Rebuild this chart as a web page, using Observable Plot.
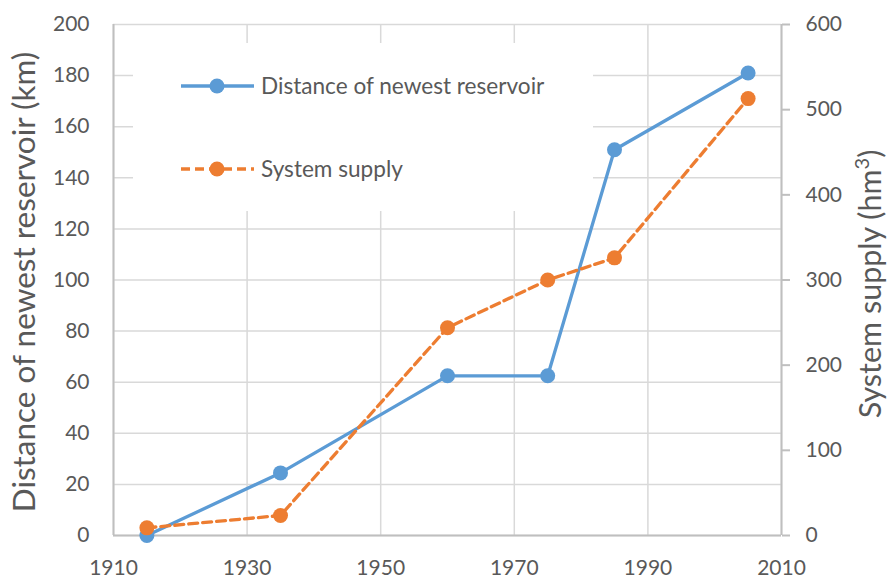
<!DOCTYPE html>
<html><head><meta charset="utf-8">
<script src="https://cdn.jsdelivr.net/npm/d3@7"></script>
<script src="https://cdn.jsdelivr.net/npm/@observablehq/plot@0.6"></script>
<style>body{margin:0;background:#fff}</style>
</head><body><div id="chart"></div>
<script>
const years = [1915, 1935, 1960, 1975, 1985, 2005];
const distanceKm = [0, 24.5, 62.5, 62.5, 151, 181];
const supplyHm3 = [9, 23.5, 244, 300, 326, 513];
const xTicks = [1910, 1930, 1950, 1970, 1990, 2010];
const leftTicks = [0, 20, 40, 60, 80, 100, 120, 140, 160, 180, 200];
const rightTicks = [0, 100, 200, 300, 400, 500, 600];
const seriesNames = ["Distance of newest reservoir", "System supply"];
const colors = ["#5b9bd5", "#ed7d31"];
const leftTitle = "Distance of newest reservoir (km)";
const rightTitle = "System supply (hm";

const ratio = 200 / 600;
const dist = years.map((y, i) => ({year: y, v: distanceKm[i]}));
const sup = years.map((y, i) => ({year: y, v: supplyHm3[i] * ratio}));

const grid = {stroke: "#d9d9d9", strokeOpacity: 1, strokeWidth: 1.5};
const axisLine = {stroke: "#bfbfbf", strokeWidth: 2};

const plot = Plot.plot({
  width: 889, height: 578,
  marginLeft: 113, marginRight: 108, marginTop: 24, marginBottom: 43,
  style: {fontFamily: "Lato", fontSize: "21px", color: "#595959", background: "#fff", overflow: "visible"},
  x: {domain: [1910, 2010]},
  y: {domain: [0, 200]},
  marks: [
    Plot.gridX(xTicks, grid),
    Plot.gridY(leftTicks, grid),
    Plot.axisX(xTicks, {tickSize: 0, tickPadding: 25, tickFormat: d => String(d), label: null}),
    Plot.axisY(leftTicks, {tickSize: 0, tickPadding: 24, label: null}),
    Plot.axisY(rightTicks.map(v => v * ratio), {anchor: "right", tickSize: 8, stroke: "#bfbfbf", strokeWidth: 2, tickPadding: 16, tickFormat: d => String(Math.round(d / ratio)), label: null}),
    Plot.ruleX([1910], axisLine),
    Plot.ruleX([2010], axisLine),
    Plot.ruleY([0], axisLine),
    Plot.line(dist, {x: "year", y: "v", stroke: colors[0], strokeWidth: 3.3}),
    Plot.dot(dist, {x: "year", y: "v", r: 7.5, fill: colors[0], stroke: "none"}),
    Plot.line(sup, {x: "year", y: "v", stroke: colors[1], strokeWidth: 3.3, strokeDasharray: "9,5"}),
    Plot.dot(sup, {x: "year", y: "v", r: 7.5, fill: colors[1], stroke: "none"})
  ]
});
document.getElementById("chart").appendChild(plot);

const svg = d3.select(plot);
svg.insert("rect", "g[aria-label='x-axis tick label']")
  .attr("x", 133).attr("y", 43).attr("width", 460).attr("height", 168).attr("fill", "#fff");
const lg = svg.append("g").attr("font-family", "Lato").attr("font-size", 22.6).attr("fill", "#595959").attr("text-anchor", "start");
seriesNames.forEach((name, i) => {
  const yy = i === 0 ? 86 : 169;
  lg.append("line").attr("x1", 181).attr("x2", 254).attr("y1", yy).attr("y2", yy)
    .attr("stroke", colors[i]).attr("stroke-width", 3.3).attr("stroke-dasharray", i ? "9,5" : null);
  lg.append("circle").attr("cx", 217).attr("cy", yy).attr("r", 7.5).attr("fill", colors[i]);
  lg.append("text").attr("x", 261).attr("y", yy).attr("dy", "0.36em").text(name);
});
svg.append("text").attr("transform", "translate(35,282) rotate(-90)")
  .attr("text-anchor", "middle").attr("font-family", "Lato").attr("font-size", 31.5).attr("fill", "#595959")
  .text(leftTitle);
const rt = svg.append("text").attr("transform", "translate(881,284) rotate(-90)")
  .attr("text-anchor", "middle").attr("font-family", "Lato").attr("font-size", 30.5).attr("fill", "#595959");
rt.append("tspan").text(rightTitle);
rt.append("tspan").attr("font-size", 20).attr("dy", "-0.6em").text("3");
rt.append("tspan").attr("dy", "0.4em").text(")");
</script>
</body></html>
